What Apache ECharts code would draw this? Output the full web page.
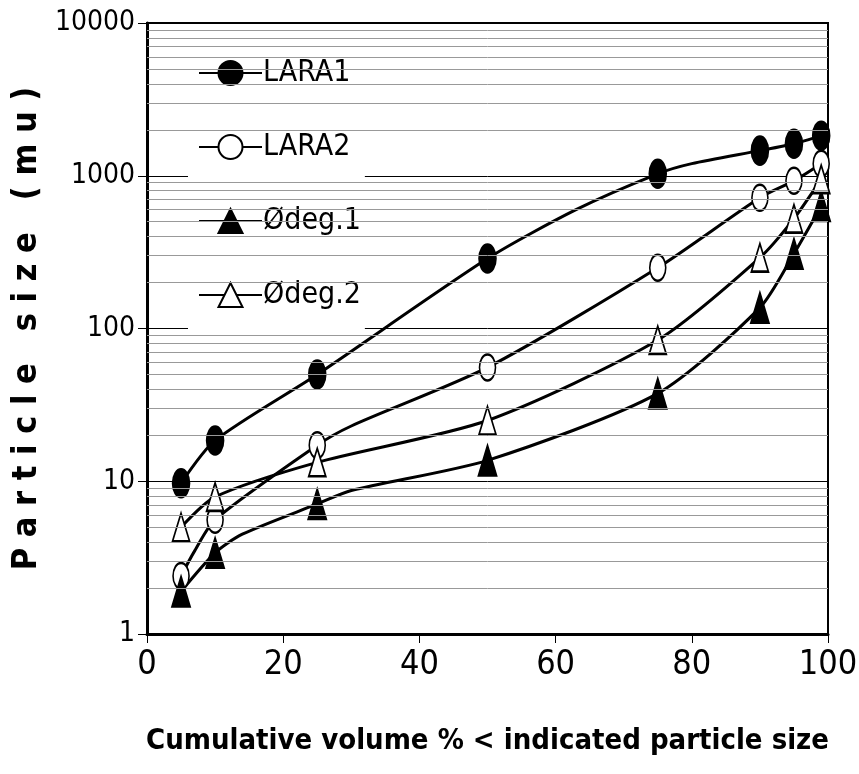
<!DOCTYPE html>
<html>
<head>
<meta charset="utf-8">
<script src="https://cdn.jsdelivr.net/npm/echarts@6/dist/echarts.min.js"></script>
<style>
  body { margin: 0; background: #fff; }
  #chart { width: 859px; height: 774px; }
</style>
</head>
<body>
<div id="chart"></div>
<script>
// x positions (cumulative volume %) where markers are drawn
const volumePct = [5, 10, 25, 50, 75, 90, 95, 99];

// particle size at each marked percentage
const lara1 = [9.7, 18.5, 50, 287, 1030, 1460, 1620, 1830];
const lara2 = [2.4, 5.6, 17.2, 55.6, 250, 718, 927, 1200];
const odeg1 = [1.9, 3.4, 7.1, 13.7, 37.6, 137, 309, 634];
const odeg2 = [5.0, 7.9, 13.3, 25, 84, 291, 524, 950];

// extra unmarked points the curves pass through
const lara1Extra = [[63, 600], [80, 1200]];
const lara2Extra = [[7, 3.5], [30, 23]];
const odeg1Extra = [[14, 4.5], [30, 8.7]];
const odeg2Extra = [];

const seriesNames = ['LARA1', 'LARA2', '\u00D8deg.1', '\u00D8deg.2'];
const xTicks = [0, 20, 40, 60, 80, 100];
const yDecades = [1, 10, 100, 1000];

const narrow = '"Liberation Sans Narrow", "DejaVu Sans Condensed", "Arial Narrow", "Liberation Sans", sans-serif';

const chart = echarts.init(document.getElementById('chart'));

function buildData(values, extra) {
    let pts = volumePct.map((x, i) => ({ value: [x, values[i]] }));
    extra.forEach(p => pts.push({ value: p, symbolSize: 0 }));
    pts.sort((a, b) => a.value[0] - b.value[0]);
    return pts;
}

// light grey lines between the decades (2..9 of each)
const minorLines = [];
yDecades.forEach(d => {
    for (let m = 2; m <= 9; m++) minorLines.push({ yAxis: d * m });
});

function lineSeries(name, values, extra, symbol, size) {
    return {
        name: name,
        type: 'line',
        data: buildData(values, extra),
        smooth: 0.25,
        symbol: symbol,
        symbolSize: size,
        z: 3,
        lineStyle: { color: '#000', width: 3 },
        itemStyle: { color: '#000', borderColor: '#000', borderWidth: 2 },
        emphasis: { disabled: true },
        animation: false
    };
}

const option = {
    backgroundColor: '#fff',
    animation: false,
    grid: {
        left: 147,
        right: 31,
        top: 23,
        bottom: 140,
        outerBoundsMode: 'none',
        containLabel: false,
        show: true,
        borderColor: '#000',
        borderWidth: 2,
        backgroundColor: 'transparent'
    },
    legend: {
        data: seriesNames,
        orient: 'vertical',
        left: 188,
        top: 32,
        padding: [26, 4, 28, 10],
        itemGap: 44,
        itemWidth: 63,
        itemHeight: 30,
        backgroundColor: '#fff',
        textStyle: { fontFamily: narrow, fontSize: 30, color: '#000', padding: [0, 0, 0, -4] }
    },
    xAxis: {
        type: 'value',
        min: 0,
        max: 100,
        interval: 20,
        name: 'Cumulative volume % < indicated particle size',
        nameLocation: 'middle',
        nameGap: 93,
        nameTextStyle: { fontFamily: narrow, fontWeight: 'bold', fontSize: 29, color: '#000' },
        axisLine: { lineStyle: { color: '#000', width: 3 } },
        axisTick: { show: true, length: 9, lineStyle: { color: '#000', width: 1 } },
        axisLabel: {
            margin: 14,
            fontFamily: narrow,
            fontSize: 34,
            color: '#000',
            formatter: v => xTicks.includes(v) ? String(v) : ''
        },
        splitLine: { show: false }
    },
    yAxis: {
        type: 'log',
        logBase: 10,
        min: 1,
        max: 10000,
        name: 'P a r t i c l e   s i z e   ( m u )',
        nameLocation: 'middle',
        nameGap: 78,
        nameTextStyle: { fontFamily: narrow, fontWeight: 'bold', fontSize: 34, color: '#000' },
        axisLine: { show: true, lineStyle: { color: '#000', width: 3 } },
        axisTick: { show: true, length: 9, lineStyle: { color: '#000', width: 1 } },
        axisLabel: {
            margin: 12,
            fontFamily: narrow,
            fontSize: 28,
            color: '#000',
            formatter: v => String(v)
        },
        splitLine: { show: true, lineStyle: { color: '#000', width: 1 } }
    },
    series: [
        {
            name: 'minor',
            type: 'line',
            data: [],
            z: 1,
            silent: true,
            markLine: {
                silent: true,
                symbol: ['none', 'none'],
                label: { show: false },
                lineStyle: { color: '#999', width: 1, type: 'solid' },
                data: minorLines,
                animation: false
            }
        },
        lineSeries(seriesNames[0], lara1, lara1Extra, 'circle', [17, 28]),
        lineSeries(seriesNames[1], lara2, lara2Extra, 'emptyCircle', [16, 26]),
        lineSeries(seriesNames[2], odeg1, odeg1Extra, 'triangle', [18, 30]),
        lineSeries(seriesNames[3], odeg2, odeg2Extra, 'emptyTriangle', [17, 28])
    ]
};

chart.setOption(option);
</script>
</body>
</html>
